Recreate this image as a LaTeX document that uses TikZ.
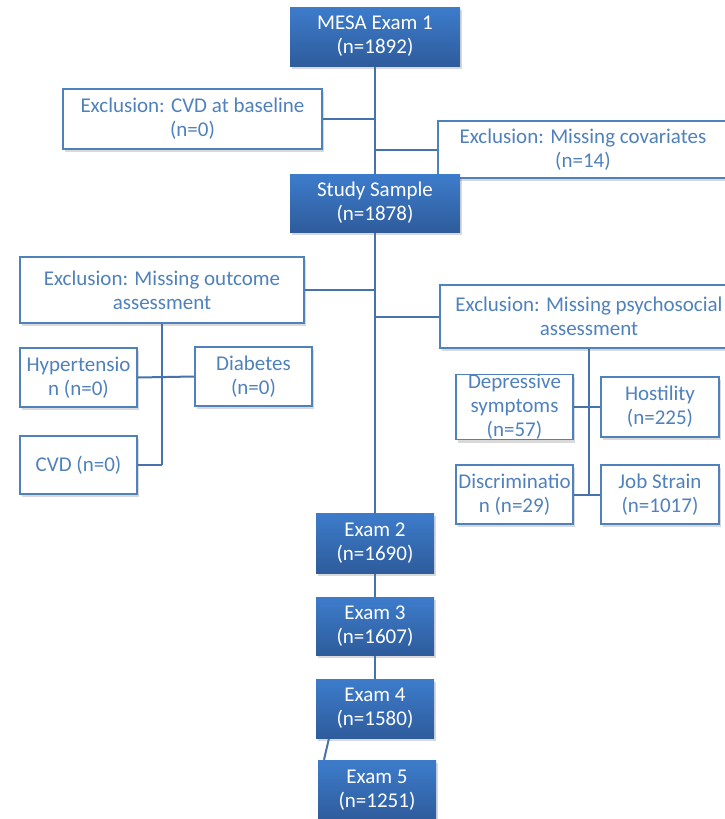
\documentclass[tikz,border=0pt]{standalone}
\usepackage{fontspec}
\setmainfont{Carlito}
\usetikzlibrary{shadows,backgrounds}
\definecolor{bluetop}{HTML}{3D7CCB}
\definecolor{bluebot}{HTML}{2E5C9C}
\definecolor{txtblue}{HTML}{4F81BD}
\definecolor{linecol}{HTML}{4673AE}
\tikzset{
  base/.style={align=center, inner sep=0pt, font=\fontsize{21}{24}\selectfont,
    drop shadow={shadow xshift=2pt, shadow yshift=-3pt, opacity=0.25, fill=black!60}},
  bluebox/.style={base, top color=bluetop, bottom color=bluebot, draw=none, text=white},
  whitebox/.style={base, fill=white, draw=txtblue, line width=1.5pt, text=txtblue},
  conn/.style={draw=linecol, line width=2pt}
}
\begin{document}
\begin{tikzpicture}[x=1pt,y=-1pt]
\useasboundingbox (0,0) rectangle (725,819);
\node[bluebox, minimum width=170pt, minimum height=59pt] (mesa) at (375,36.5) {MESA Exam 1\\(n=1892)};
\node[whitebox, minimum width=259pt, minimum height=60pt] (cvdb) at (192.5,119) {Exclusion: CVD at baseline\\(n=0)};
\node[whitebox, minimum width=290pt, minimum height=57pt] (cov) at (583,149.5) {Exclusion: Missing covariates\\(n=14)};
\node[bluebox, minimum width=170pt, minimum height=58pt] (study) at (375,203) {Study Sample\\(n=1878)};
\node[whitebox, minimum width=284pt, minimum height=66pt] (out) at (162,290) {Exclusion: Missing outcome\\assessment};
\node[whitebox, minimum width=298pt, minimum height=63pt] (psy) at (589,316.5) {Exclusion: Missing psychosocial\\assessment};
\node[whitebox, minimum width=117pt, minimum height=59pt] (hyp) at (78.5,377.5) {Hypertensio\\n (n=0)};
\node[whitebox, minimum width=117pt, minimum height=59pt] (dia) at (253.5,376.5) {Diabetes\\(n=0)};
\node[whitebox, minimum width=117pt, minimum height=58pt] (cvd) at (78.5,465) {CVD (n=0)};
\node[whitebox, minimum width=117pt, minimum height=60pt] (dep) at (514.5,407) {Depressive\\symptoms\\(n=57)};
\node[whitebox, minimum width=118pt, minimum height=60pt] (host) at (660,407) {Hostility\\(n=225)};
\node[whitebox, minimum width=117pt, minimum height=59pt] (disc) at (514.5,494.5) {Discriminatio\\n (n=29)};
\node[whitebox, minimum width=118pt, minimum height=59pt] (job) at (660,494.5) {Job Strain\\(n=1017)};
\node[bluebox, minimum width=118pt, minimum height=60pt] (ex2) at (375,543) {Exam 2\\(n=1690)};
\node[bluebox, minimum width=118pt, minimum height=58pt] (ex3) at (375,626) {Exam 3\\(n=1607)};
\node[bluebox, minimum width=118pt, minimum height=59pt] (ex4) at (375,708.5) {Exam 4\\(n=1580)};
\node[bluebox, minimum width=118pt, minimum height=60pt] (ex5) at (377,790) {Exam 5\\(n=1251)};
\begin{scope}[on background layer]
\draw[conn] (mesa.south) -- (ex2.north);
\draw[conn] (cvdb.east) -- (cvdb.east -| mesa.south);
\draw[conn] (cov.west) -- (cov.west -| mesa.south);
\draw[conn] (out.east) -- (out.east -| mesa.south);
\draw[conn] (psy.west) -- (psy.west -| mesa.south);
\draw[conn] (out.south) -- (out.south |- cvd.east);
\draw[conn] (hyp.east) -- (dia.west);
\draw[conn] (cvd.east) -- (cvd.east -| out.south);
\draw[conn] (psy.south) -- (psy.south |- disc.east);
\draw[conn] (dep.east) -- (host.west);
\draw[conn] (disc.east) -- (job.west);
\draw[conn] (ex2.south) -- (ex3.north);
\draw[conn] (ex3.south) -- (ex4.north);
\draw[conn] ([xshift=-46pt]ex4.south) -- ([xshift=-53pt]ex5.north);
\end{scope}
\end{tikzpicture}
\end{document}
